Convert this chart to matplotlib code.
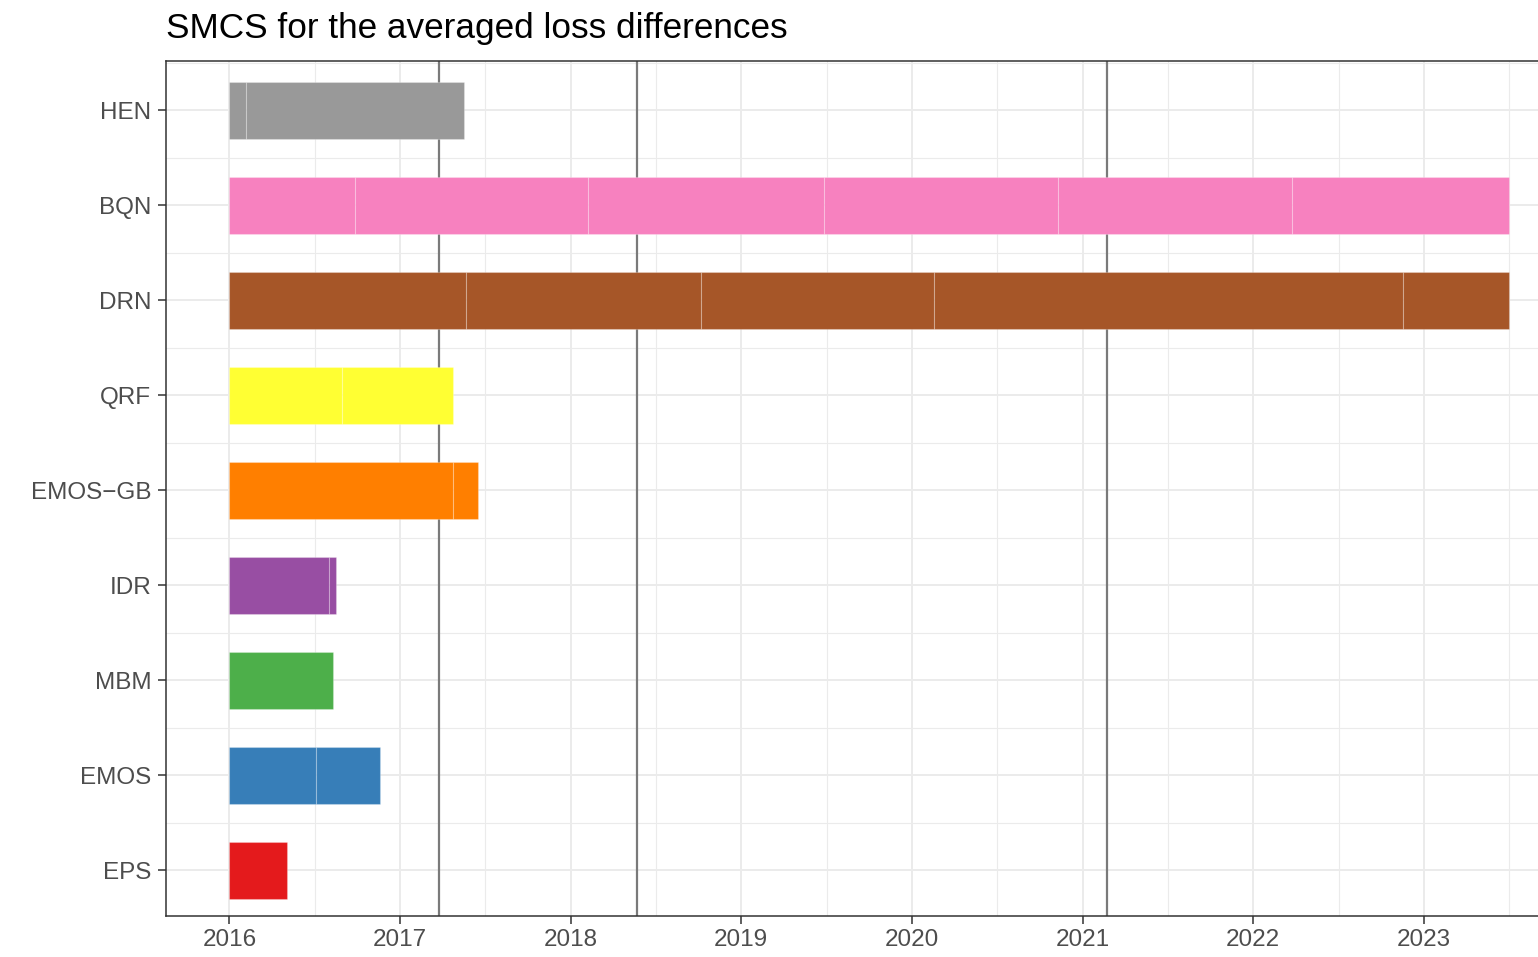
"""Superior model confidence set membership over time, one bar per model."""
import matplotlib.pyplot as plt

models = ["EPS", "EMOS", "MBM", "IDR", "EMOS\u2212GB", "QRF", "DRN", "BQN", "HEN"]
colors = ["#E41A1C", "#377EB8", "#4DAF4A", "#984EA3", "#FF7F00",
          "#FFFF33", "#A65628", "#F781BF", "#999999"]

# period boundaries (decimal years) during which each model stays in the set
eps_breaks = [2016.0, 2016.338]
emos_breaks = [2016.0, 2016.510, 2016.883]
mbm_breaks = [2016.0, 2016.607]
idr_breaks = [2016.0, 2016.586, 2016.623]
emosgb_breaks = [2016.0, 2017.312, 2017.459]
qrf_breaks = [2016.0, 2016.662, 2017.309]
drn_breaks = [2016.0, 2017.385, 2018.762, 2020.128, 2022.876, 2023.496]
bqn_breaks = [2016.0, 2016.735, 2018.100, 2019.483, 2020.854, 2022.225, 2023.496]
hen_breaks = [2016.0, 2016.098, 2017.378]

breaks = [eps_breaks, emos_breaks, mbm_breaks, idr_breaks, emosgb_breaks,
          qrf_breaks, drn_breaks, bqn_breaks, hen_breaks]

# reference dates marked with vertical lines
event_dates = [2017.229, 2018.389, 2021.142]

year_ticks = list(range(2016, 2024))


def main():
    plt.rcParams["font.family"] = ["Liberation Sans", "DejaVu Sans"]
    fig = plt.figure(figsize=(15.38, 9.57), dpi=100)
    W, H = 1538, 957
    ax = fig.add_axes([166 / W, 1 - 916 / H, (1569 - 166) / W, (916 - 61) / H])

    # grid in the style of theme_bw
    for yr in year_ticks:
        ax.axvline(yr, color="#EBEBEB", lw=1.4, zorder=0)
        ax.axvline(yr + 0.5, color="#EBEBEB", lw=0.8, zorder=0)
    for i in range(len(models)):
        ax.axhline(i + 1, color="#EBEBEB", lw=1.4, zorder=0)
        ax.axhline(i + 1.5, color="#EBEBEB", lw=0.8, zorder=0)
    ax.axhline(0.5, color="#EBEBEB", lw=0.8, zorder=0)

    for d in event_dates:
        ax.axvline(d, color="#7A7A7A", lw=1.6, zorder=1)

    for i, (b, c) in enumerate(zip(breaks, colors)):
        for start, end in zip(b[:-1], b[1:]):
            ax.barh(i + 1, end - start, left=start, height=0.6, color=c,
                    edgecolor=(1, 1, 1, 0.25), linewidth=0.8, zorder=2)

    ax.set_xlim(2015.629, 2023.85)
    ax.set_ylim(0.516, 9.516)
    ax.set_xticks(year_ticks)
    ax.set_xticklabels([str(y) for y in year_ticks])
    ax.set_yticks(range(1, len(models) + 1))
    ax.set_yticklabels(models)
    ax.tick_params(axis="both", labelsize=17.5, labelcolor="#4D4D4D",
                   color="#333333", length=5.5, width=1.1)
    ax.tick_params(axis="x", pad=4)
    ax.tick_params(axis="y", pad=5)

    for sp in ax.spines.values():
        sp.set_color("#333333")
        sp.set_linewidth(1.1)

    fig.text(166 / W, 1 - 38 / H, "SMCS for the averaged loss differences",
             fontsize=25.3, color="black", ha="left", va="baseline")

    fig.savefig("out.png", dpi=100, facecolor="white")


if __name__ == "__main__":
    main()
